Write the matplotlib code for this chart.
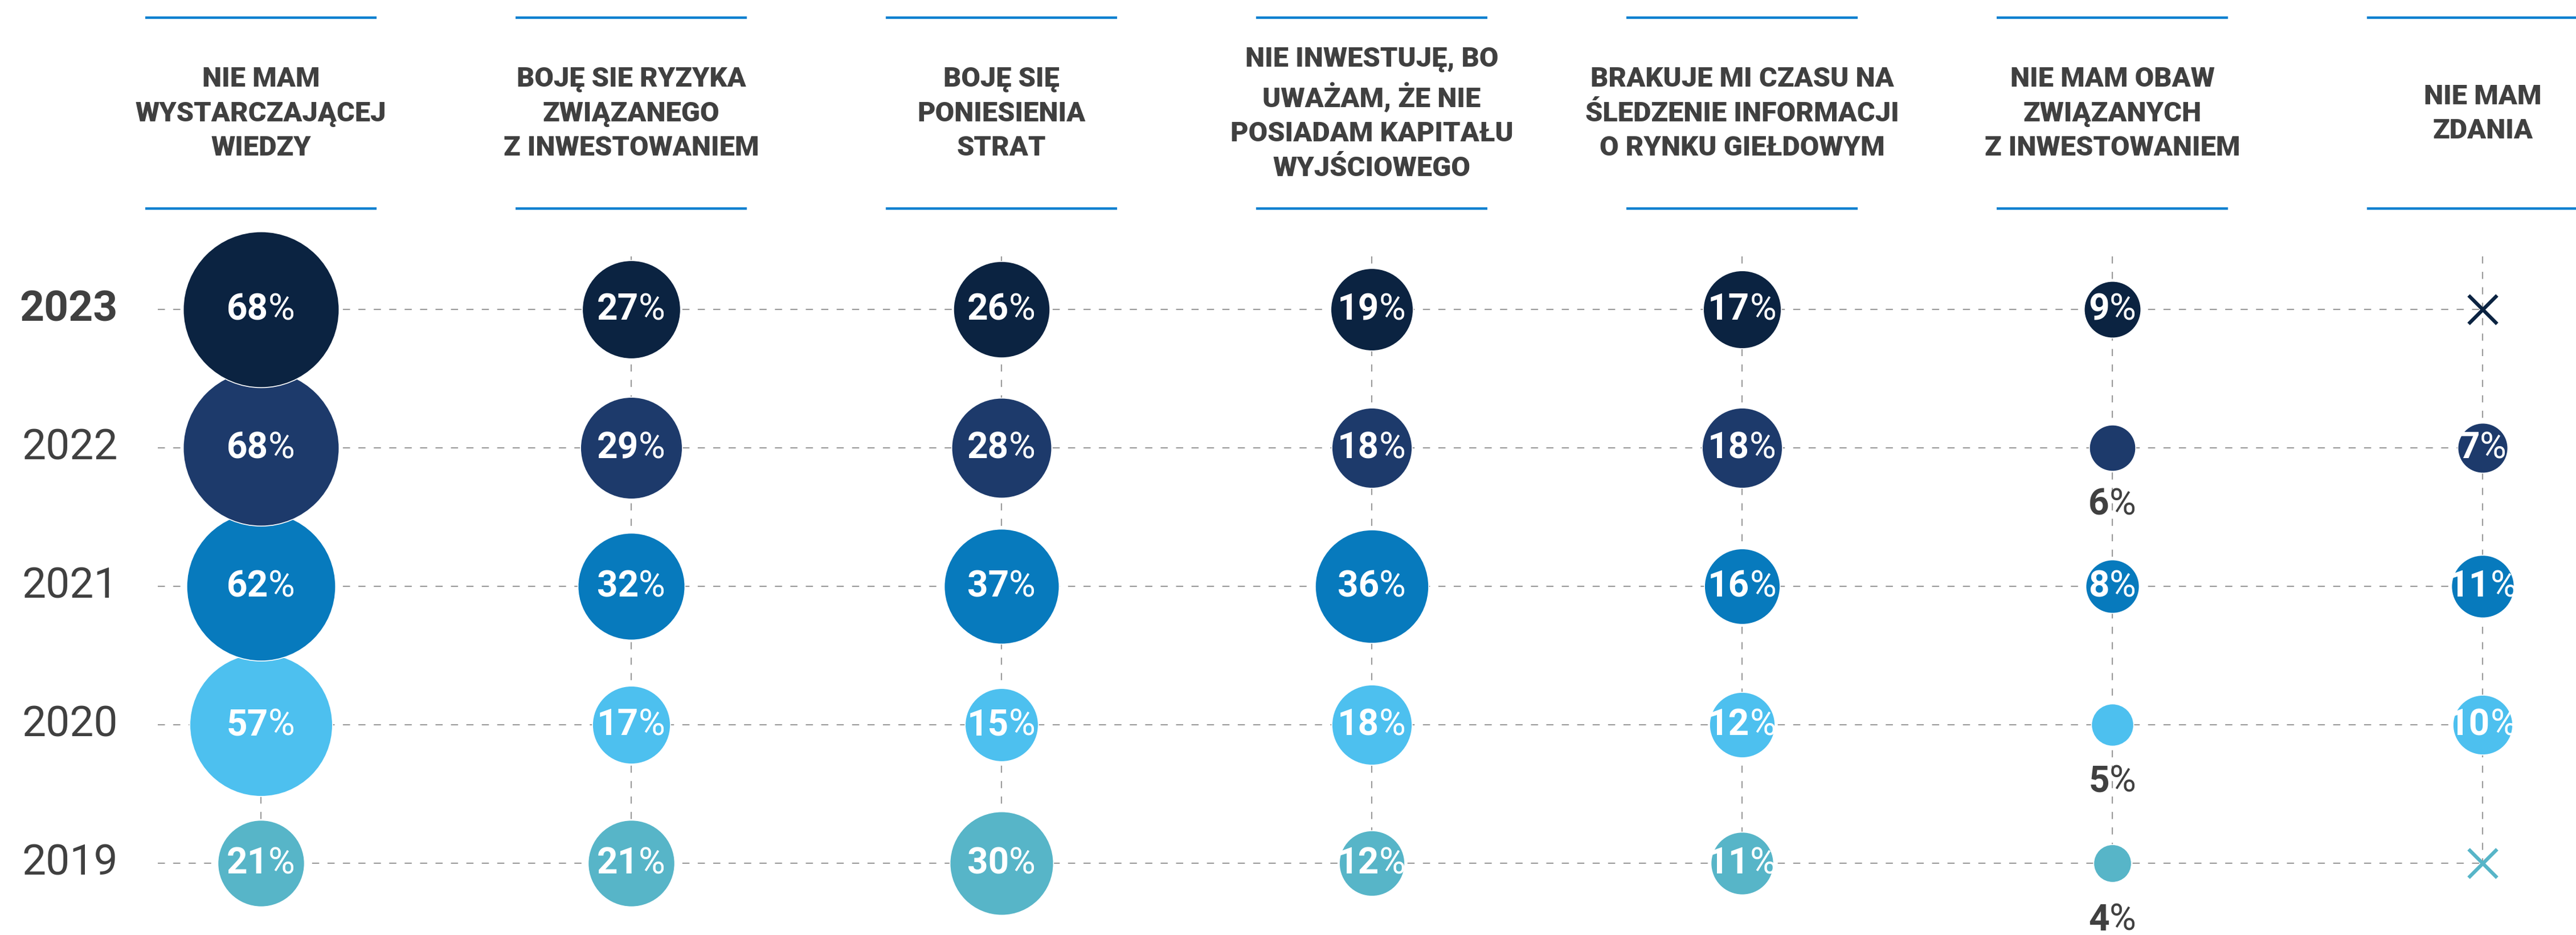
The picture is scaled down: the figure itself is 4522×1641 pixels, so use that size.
import matplotlib.pyplot as plt
from matplotlib.offsetbox import TextArea, HPacker, AnnotationBbox

# dane
years = ['2023', '2022', '2021', '2020', '2019']
reasons = [
    'NIE MAM\nWYSTARCZAJĄCEJ\nWIEDZY',
    'BOJĘ SIE RYZYKA\nZWIĄZANEGO\nZ INWESTOWANIEM',
    'BOJĘ SIĘ\nPONIESIENIA\nSTRAT',
    'NIE INWESTUJĘ, BO\nUWAŻAM, ŻE NIE\nPOSIADAM KAPITAŁU\nWYJŚCIOWEGO',
    'BRAKUJE MI CZASU NA\nŚLEDZENIE INFORMACJI\nO RYNKU GIEŁDOWYM',
    'NIE MAM OBAW\nZWIĄZANYCH\nZ INWESTOWANIEM',
    'NIE MAM\nZDANIA',
]
# None = brak danych (rysowany krzyżyk)
v2023 = [68, 27, 26, 19, 17, 9, None]
v2022 = [68, 29, 28, 18, 18, 6, 7]
v2021 = [62, 32, 37, 36, 16, 8, 11]
v2020 = [57, 17, 15, 18, 12, 5, 10]
v2019 = [21, 21, 30, 12, 11, 4, None]
values = [v2023, v2022, v2021, v2020, v2019]

colors = ['#0B2341', '#1D3A6B', '#077ABD', '#4DC0EF', '#57B5C8']
text_gray = '#404040'
grid_gray = '#999999'
line_blue = '#0A80D0'

plt.rcParams['font.family'] = ['Roboto', 'DejaVu Sans']

fig = plt.figure(figsize=(45.22, 16.41), dpi=100)
ax = fig.add_axes([0, 0, 1, 1])
ax.set_xlim(-0.7046, 6.2523)
ax.set_ylim(4.5185, -2.2346)
ax.axis('off')

n_cols = len(reasons)
n_rows = len(years)

# siatka przerywana
for r in range(n_rows):
    ax.plot([-0.278, n_cols - 1], [r, r], color=grid_gray, lw=1.5,
            dashes=(6, 7), zorder=1)
for c in range(n_cols):
    ax.plot([c, c], [-0.383, n_rows - 1], color=grid_gray, lw=1.5,
            dashes=(6, 7), zorder=1)

# nagłówki kolumn z liniami
for c, label in enumerate(reasons):
    for yl in (-2.107, -0.728):
        ax.plot([c - 0.3125, c + 0.3125], [yl, yl], color=line_blue, lw=3.2,
                solid_capstyle='butt', zorder=2)
    ax.text(c, -1.412, label, ha='center', va='center', fontsize=35,
            fontweight='black', color=text_gray, linespacing=1.4,
            multialignment='center')

# etykiety lat
for r, year in enumerate(years):
    ax.text(-0.386, r, year, ha='right', va='center', fontsize=54,
            fontweight='bold' if r == 0 else 'normal', color=text_gray)


def pct_label(x, y, num, color):
    a = TextArea(str(num), textprops=dict(fontsize=46, fontweight='semibold', color=color))
    b = TextArea('%', textprops=dict(fontsize=46, fontweight='normal', color=color))
    box = HPacker(children=[a, b], align='baseline', pad=0, sep=0)
    ab = AnnotationBbox(box, (x, y), xycoords='data', frameon=False,
                        box_alignment=(0.5, 0.5), pad=0)
    ab.set_zorder(30)
    ax.add_artist(ab)


# bąbelki (2023 na wierzchu)
for r in range(n_rows):
    row = values[r]
    for c in range(n_cols):
        v = row[c]
        z = 10 + (n_rows - r)
        if v is None:
            ax.scatter(c, r, s=36 ** 2, marker='x', color=colors[r],
                       linewidths=4.5, zorder=z)
            continue
        ax.scatter(c, r, s=571 * v, color=colors[r], edgecolors='white',
                   linewidths=1.2, zorder=z)
        if v <= 6:
            pct_label(c, r + 0.41, v, text_gray)
        else:
            pct_label(c, r, v, 'white')

fig.savefig('out.png', dpi=100)
